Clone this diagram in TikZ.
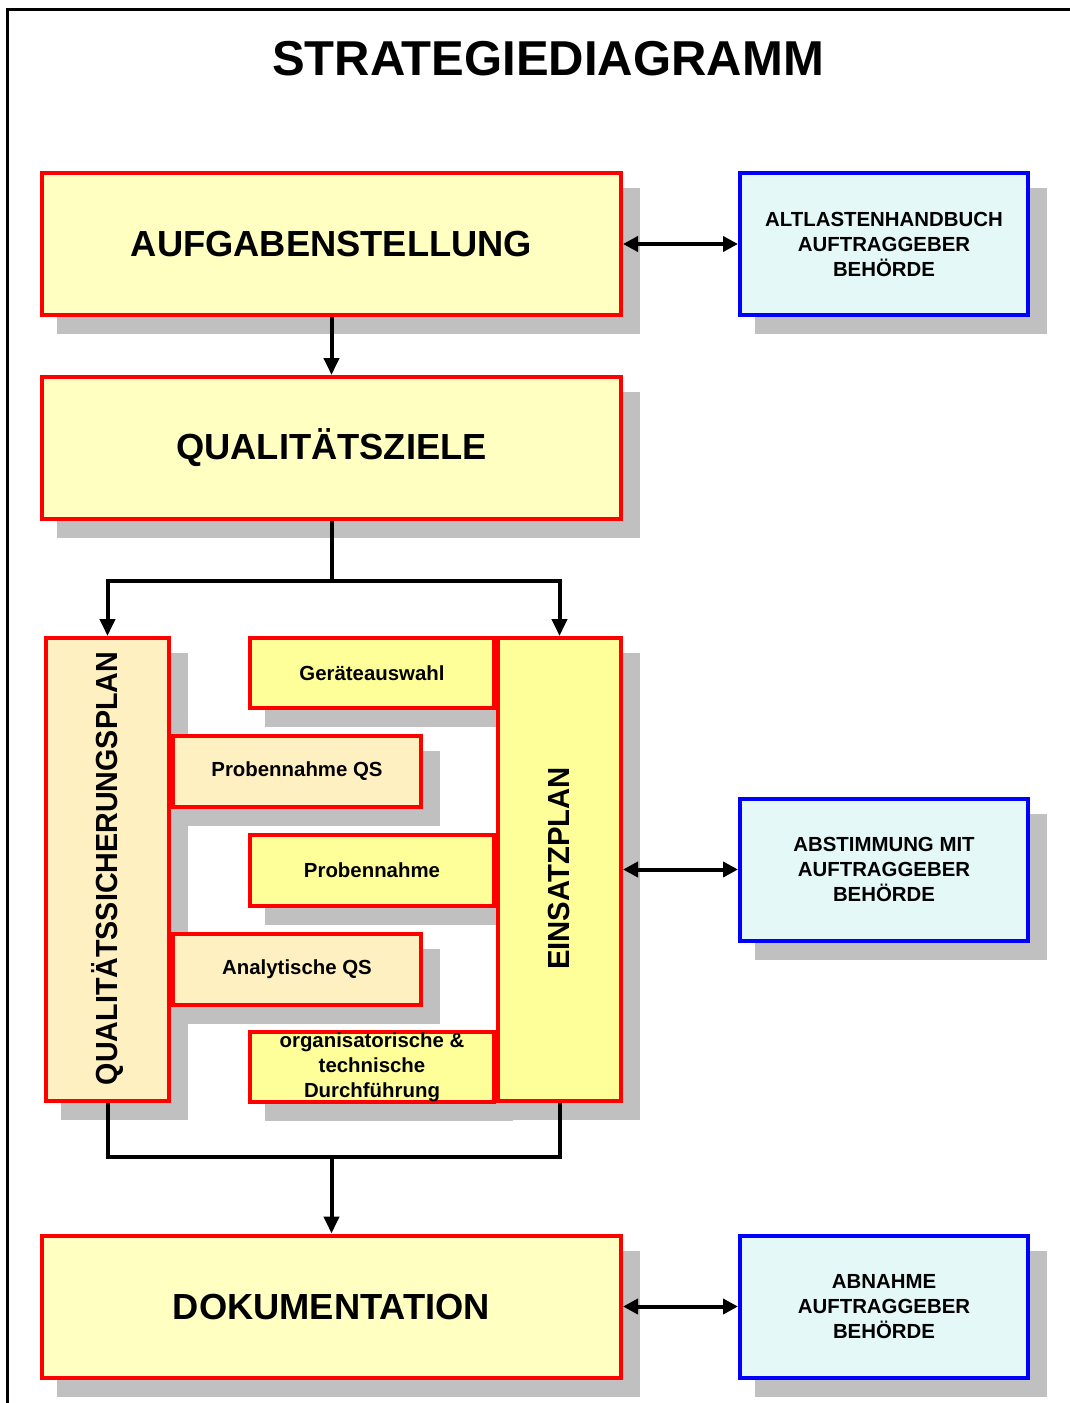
\documentclass[tikz,border=0pt]{standalone}
\usepackage{fontspec}
\usepackage{graphicx}
\setmainfont{Liberation Sans}
\usetikzlibrary{arrows.meta,backgrounds,calc}
\definecolor{bigyellow}{RGB}{255,255,194}
\definecolor{subyellow}{RGB}{255,255,153}
\definecolor{qsfill}{RGB}{255,240,194}
\definecolor{bluefill}{RGB}{228,248,248}
\definecolor{shadowgray}{RGB}{192,192,192}
\begin{document}
\begin{tikzpicture}[x=1pt,y=-1pt,
  box/.style={line width=4pt, inner sep=0pt, align=center},
  bigbox/.style={box, draw=red, fill=bigyellow, minimum width=579pt, minimum height=142pt,
    font=\bfseries\fontsize{36.3}{40}\selectfont},
  sidebox/.style={box, draw=blue, fill=bluefill, minimum width=288pt, minimum height=142pt,
    font=\bfseries\fontsize{20.4}{25}\selectfont},
  subbox/.style={box, draw=red, minimum width=244pt, minimum height=71pt,
    font=\bfseries\fontsize{20.4}{25}\selectfont},
  tallbox/.style={box, draw=red, minimum width=123pt, minimum height=463pt},
  vlabel/.style={rotate=90, inner sep=0pt, font=\bfseries\fontsize{30.5}{34}\selectfont},
  conn/.style={line width=4pt},
  arr/.style={conn, -{Triangle[length=17pt,width=15pt]}},
  darr/.style={conn, {Triangle[length=15pt,width=15pt]}-{Triangle[length=15pt,width=15pt]}}
]
\useasboundingbox (0,0) rectangle (1070,1403);

% frame
\draw[line width=3pt] (7,1410) -- (7,9.5) -- (1075,9.5);

% title
\node[inner sep=0pt, font=\bfseries\fontsize{49}{54}\selectfont] (title) at (548,58.5) {STRATEGIEDIAGRAMM};

% main boxes
\node[bigbox] (aufg) at (331.5,244) {AUFGABENSTELLUNG};
\node[bigbox] (qz) at (331.5,448) {QUALITÄTSZIELE};
\node[bigbox] (dok) at (331.5,1306.5) {DOKUMENTATION};

% side boxes
\node[sidebox] (b1) at (884,244) {ALTLASTENHANDBUCH\\AUFTRAGGEBER\\BEHÖRDE};
\node[sidebox] (b2) at (884,869.5) {ABSTIMMUNG MIT\\AUFTRAGGEBER\\BEHÖRDE};
\node[sidebox] (b3) at (884,1306.5) {ABNAHME\\AUFTRAGGEBER\\BEHÖRDE};

% sub boxes
\node[subbox, fill=subyellow, minimum height=70pt] (ger) at (372,673) {Geräteauswahl};
\node[subbox, fill=qsfill, minimum width=248pt] (pqs) at (297,771.5) {Probennahme QS};
\node[subbox, fill=subyellow] (pn) at (372,870.5) {Probennahme};
\node[subbox, fill=qsfill, minimum width=248pt] (aqs) at (297,969.5) {Analytische QS};
\node[subbox, fill=subyellow, minimum height=68pt] (org) at (372,1067) {organisatorische \&\\technische\\Durchführung};

% tall boxes
\node[tallbox, fill=qsfill] (qsp) at (107.5,869.5) {};
\node[tallbox, fill=subyellow] (ep) at (559.5,869.5) {};
\node[vlabel] (qsptext) at (107,868.5) {\scalebox{0.94}[1]{QUALITÄTSSICHERUNGSPLAN}};
\node[vlabel] (eptext) at (559,868.5) {\scalebox{0.96}[1]{EINSATZPLAN}};

% shadows
\begin{scope}[on background layer]
  \foreach \n in {aufg,qz,dok,b1,b2,b3,ger,pqs,pn,aqs,org,qsp,ep}
    \fill[shadowgray] ($(\n.south west)+(17,17)$) rectangle ($(\n.north east)+(17,17)$);
\end{scope}

% connectors
\coordinate (split) at (331.5,581);
\coordinate (join) at (331.5,1157);
\draw[arr] (aufg) -- (qz);
\draw[conn] (qz.south) -- (split);
\draw[arr] (split) -| (qsp.north);
\draw[arr] (split) -| (ep.north);
\draw[conn] (qsp.south) |- (join);
\draw[conn] (ep.south) |- (join);
\draw[arr] (join) -- (dok.north);

\draw[darr] (aufg.east) -- (b1.west);
\draw[darr] (ep.east) -- (b2.west);
\draw[darr] (dok.east) -- (b3.west);
\end{tikzpicture}
\end{document}
